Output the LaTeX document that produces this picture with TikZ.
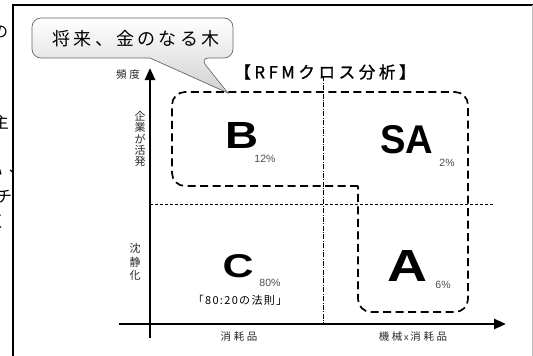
\documentclass[tikz,border=0pt]{standalone}
\usepackage{fontspec}
\usepackage{graphicx}
\usetikzlibrary{arrows.meta}
\newfontfamily\jp{Noto Sans CJK JP}
\newfontfamily\jpsp{Noto Sans CJK JP}[LetterSpace=25]
\newfontfamily\jprule{Noto Sans CJK JP}[LetterSpace=12]
\newfontfamily\jpspb{Noto Sans CJK JP}[LetterSpace=18]
\newfontfamily\jptitle{Noto Sans CJK JP}[LetterSpace=22,FakeBold=1.2]
\newfontfamily\lat{Liberation Sans}
\newfontfamily\latb{Liberation Sans Bold}
\newcommand{\bigletter}[3]{\resizebox{#2pt}{#3pt}{\latb #1}}
\begin{document}
\begin{tikzpicture}[x=1pt,y=-1pt,
  every node/.style={inner sep=0pt},
  axis/.style={line width=2.6pt,-{Triangle[width=10pt,length=12pt]}},
  region/.style={line width=1.7pt,dash pattern=on 8pt off 4.5pt,rounded corners=13pt},
  grid/.style={line width=0.6pt,dash pattern=on 3pt off 2pt},
  gridv/.style={line width=0.6pt,dash pattern=on 5pt off 1.5pt on 0.8pt off 1.5pt},
  small/.style={font=\jpsp\fontsize{10.5}{10.5}\selectfont, text=black!85},
  pct/.style={font=\lat\fontsize{10.5}{10.5}\selectfont, text=black!70},
  vtext/.style={font=\jp\fontsize{11}{11.4}\selectfont, align=center, text=black!85}]
\useasboundingbox (0,0) rectangle (533,356);
% cut fragments of neighbouring text
\begin{scope}
\clip (0,0) rectangle (12,356);
\node (f1) at (0,32) {\jp\fontsize{16}{16}\selectfont の};
\node (f2) at (1,122) {\jp\fontsize{16}{16}\selectfont 主};
\node (f3) at (-5,172) {\jp\fontsize{16}{16}\selectfont い};
\node (f4) at (17,172) {\jp\fontsize{16}{16}\selectfont 、};
\node (f5) at (4,197) {\jp\fontsize{16}{16}\selectfont チ};
\node (f6) at (-2,222) {\jp\fontsize{16}{16}\selectfont く};
\end{scope}
% frame
\draw[line width=1.8pt] (13,356) -- (13,5) -- (533,5);
\draw[black!25, line width=0.8pt] (532,5) -- (532,356);
% callout
\path[draw=black!60, line width=0.7pt, top color=white, bottom color=black!18]
  (150,58) [rounded corners=9pt] -- (32,58) -- (32,18) -- (233,18) -- (233,58) -- (200,58)
  [sharp corners] -- (228,93) -- cycle;
\node (callout) at (136,39) {\jpspb\fontsize{18}{18}\selectfont 将来、金のなる木};
% title
\node (title) at (325,72) {\jptitle\fontsize{16.5}{16.5}\selectfont 【RFMクロス分析】};
% grid lines
\coordinate (vt) at (323,76);
\coordinate (vb) at (323,324);
\coordinate (hl) at (150,204);
\coordinate (hr) at (494,204);
\draw[gridv] (vt) -- (vb);
\draw[grid] (hl) -- (hr);
% region
\draw[region] (358,186) -- (172,186) -- (172,92) -- (468,92) -- (468,312) -- (358,312) -- (358,186);
% axes
\coordinate (yb) at (150,338);
\coordinate (yt) at (150,68);
\coordinate (xl) at (119,324);
\coordinate (xr) at (506,324);
\draw[axis] (yb) -- (yt);
\draw[axis] (xl) -- (xr);
% axis labels
\node[small] (freq) at (128,75) {頻度};
\node[vtext] (act) at (140,139) {企\\業\\が\\活\\発};
\node[vtext, font=\jp\fontsize{11}{13.3}\selectfont] (calm) at (135,262) {沈\\静\\化};
\node[small] (cons) at (239,337) {消耗品};
\node[small] (mach) at (413,337) {機械\,{\lat\fontsize{9}{9}\selectfont x}\,消耗品};
% quadrant labels
\node (B) at (242.5,135) {\bigletter{B}{33}{26}};
\node[pct] (Bp) at (265,159) {12\%};
\node (SA) at (406.5,140) {\bigletter{SA}{53}{28}};
\node[pct] (SAp) at (447,163) {2\%};
\node (C) at (238,266) {\bigletter{C}{31}{23}};
\node[pct] (Cp) at (270,283) {80\%};
\node (A) at (408,266) {\bigletter{A}{40}{31}};
\node[pct] (Ap) at (443,285) {6\%};
\node[font=\jprule\fontsize{11}{11}\selectfont] (rule) at (240,300) {「80:20の法則」};
\end{tikzpicture}
\end{document}
